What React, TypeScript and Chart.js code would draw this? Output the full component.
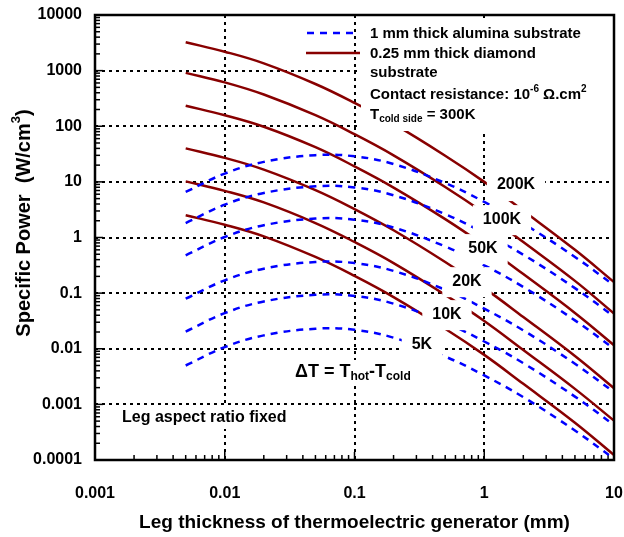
import React, { useEffect, useRef } from 'react';
import { Chart, registerables } from 'chart.js';

Chart.register(...registerables);

// ---------- data ----------
const thickness = [0.005, 0.01, 0.02, 0.05, 0.1, 0.2, 0.5, 1, 2, 5, 10];

const diamond200 = [3240, 2190, 1350, 575, 263, 110, 29.5, 10, 3.02, 0.6, 0.158];
const diamond100 = [910, 615, 372, 158, 72, 30, 8.1, 2.75, 0.83, 0.166, 0.043];
const diamond50 = [234, 158, 98, 42, 19, 7.9, 2.14, 0.72, 0.22, 0.044, 0.0116];
const diamond20 = [40, 27, 16.6, 7.1, 3.24, 1.35, 0.363, 0.123, 0.0372, 0.0074, 0.00195];
const diamond10 = [10.2, 6.9, 4.27, 1.82, 0.83, 0.347, 0.093, 0.0316, 0.0095, 0.0019, 0.00051];
const diamond5 = [2.51, 1.7, 1.05, 0.447, 0.204, 0.085, 0.0229, 0.00776, 0.00234, 0.000468, 0.000123];

const alumina200 = [6.6, 14.1, 22.9, 30.2, 28.8, 20.9, 9.55, 4.37, 1.78, 0.447, 0.138];
const alumina100 = [1.82, 3.89, 6.31, 8.32, 7.94, 5.75, 2.63, 1.2, 0.49, 0.123, 0.038];
const alumina50 = [0.479, 1.02, 1.66, 2.19, 2.09, 1.51, 0.69, 0.316, 0.129, 0.0324, 0.01];
const alumina20 = [0.0794, 0.17, 0.275, 0.363, 0.347, 0.251, 0.115, 0.0525, 0.0214, 0.00537, 0.00166];
const alumina10 = [0.0204, 0.0437, 0.0708, 0.0933, 0.0891, 0.0646, 0.0295, 0.0135, 0.0055, 0.00138, 0.000427];
const alumina5 = [0.005, 0.0107, 0.0174, 0.0229, 0.0219, 0.0158, 0.00724, 0.00331, 0.00135, 0.000339, 0.000105];

const deltaTLabels = ['200K', '100K', '50K', '20K', '10K', '5K'];
// label anchor positions in data space (thickness, power)
const labelX = [1.757, 1.37, 0.978, 0.736, 0.516, 0.331];
const labelY = [8.76, 2.14, 0.644, 0.164, 0.0419, 0.0121];

const xTickValues = [0.001, 0.01, 0.1, 1, 10];
const xTickLabels = ['0.001', '0.01', '0.1', '1', '10'];
const yTickValues = [0.0001, 0.001, 0.01, 0.1, 1, 10, 100, 1000, 10000];
const yTickLabels = ['0.0001', '0.001', '0.01', '0.1', '1', '10', '100', '1000', '10000'];

const xGridValues = [0.01, 0.1, 1];
const yGridValues = [0.001, 0.01, 0.1, 1, 10, 100, 1000];

// ---------- styles ----------
const FF = '"Liberation Sans", Arial, sans-serif';
const BLUE = '#0000FF';
const RED = '#880000';

type Seg = { t: string; size: number; dy?: number };

function richWidth(ctx: CanvasRenderingContext2D, segs: Seg[]) {
  let w = 0;
  for (const s of segs) {
    ctx.font = `bold ${s.size}px ${FF}`;
    w += ctx.measureText(s.t).width;
  }
  return w;
}

function drawRich(ctx: CanvasRenderingContext2D, segs: Seg[], x: number, y: number, align: 'left' | 'center') {
  const total = richWidth(ctx, segs);
  let cx = align === 'center' ? x - total / 2 : x;
  ctx.textAlign = 'left';
  ctx.textBaseline = 'middle';
  for (const s of segs) {
    ctx.font = `bold ${s.size}px ${FF}`;
    ctx.fillText(s.t, cx, y + (s.dy || 0));
    cx += ctx.measureText(s.t).width;
  }
  return total;
}

function seg(ctx: CanvasRenderingContext2D, x1: number, y1: number, x2: number, y2: number) {
  ctx.beginPath();
  ctx.moveTo(x1, y1);
  ctx.lineTo(x2, y2);
  ctx.stroke();
}

const overlayPlugin = {
  id: 'overlay',
  beforeDatasetsDraw(chart: any) {
    const { ctx, chartArea: a, scales } = chart;
    const xs = scales.x;
    const ys = scales.y;
    ctx.save();
    ctx.strokeStyle = '#000';
    ctx.lineWidth = 2;
    ctx.setLineDash([3, 4]);
    for (const v of xGridValues) {
      const px = Math.round(xs.getPixelForValue(v));
      seg(ctx, px, a.top, px, a.bottom);
    }
    for (const v of yGridValues) {
      const py = Math.round(ys.getPixelForValue(v));
      seg(ctx, a.left, py, a.right, py);
    }
    ctx.setLineDash([]);
    ctx.lineWidth = 1.5;
    for (let d = 0.001; d < 9; d *= 10) {
      for (let m = 1; m <= 9; m++) {
        const v = d * m;
        const px = xs.getPixelForValue(v);
        seg(ctx, px, a.bottom, px, a.bottom - (m === 1 ? 8 : 5));
      }
    }
    for (let d = 0.0001; d < 9000; d *= 10) {
      for (let m = 1; m <= 9; m++) {
        const v = d * m;
        const py = ys.getPixelForValue(v);
        seg(ctx, a.left, py, a.left + (m === 1 ? 8 : 5), py);
      }
    }
    ctx.restore();
  },
  afterDatasetsDraw(chart: any) {
    const { ctx, chartArea: a, scales } = chart;
    const xs = scales.x;
    const ys = scales.y;
    ctx.save();
    ctx.fillStyle = '#000';

    // legend box
    const lx = a.left + 266;
    ctx.fillStyle = '#fff';
    ctx.fillRect(lx, a.top + 7, a.right - 3 - lx, 109);
    ctx.lineWidth = 2.5;
    ctx.strokeStyle = BLUE;
    ctx.setLineDash([7, 6]);
    seg(ctx, a.left + 212, a.top + 18, a.left + 262, a.top + 18);
    ctx.setLineDash([]);
    ctx.strokeStyle = RED;
    seg(ctx, a.left + 211, a.top + 38, a.left + 265, a.top + 38);
    ctx.fillStyle = '#000';
    const tx = a.left + 275;
    drawRich(ctx, [{ t: '1 mm thick alumina substrate', size: 15 }], tx, a.top + 19, 'left');
    drawRich(ctx, [{ t: '0.25 mm thick diamond', size: 15 }], tx, a.top + 39, 'left');
    drawRich(ctx, [{ t: 'substrate', size: 15 }], tx, a.top + 58, 'left');
    drawRich(
      ctx,
      [
        { t: 'Contact resistance: 10', size: 15 },
        { t: '-6', size: 10, dy: -6 },
        { t: ' \u03A9.cm', size: 15 },
        { t: '2', size: 10, dy: -6 },
      ],
      tx,
      a.top + 80,
      'left'
    );
    drawRich(
      ctx,
      [
        { t: 'T', size: 15 },
        { t: 'cold side', size: 10, dy: 4 },
        { t: ' = 300K', size: 15 },
      ],
      tx,
      a.top + 100,
      'left'
    );

    // curve labels with white background
    for (let i = 0; i < deltaTLabels.length; i++) {
      const cx = xs.getPixelForValue(labelX[i]);
      const cy = ys.getPixelForValue(labelY[i]);
      ctx.font = `bold 16px ${FF}`;
      const w = ctx.measureText(deltaTLabels[i]).width;
      ctx.fillStyle = '#fff';
      ctx.fillRect(cx - w / 2 - 10, cy - 14, w + 20, 30);
      ctx.fillStyle = '#000';
      drawRich(ctx, [{ t: deltaTLabels[i], size: 16 }], cx, cy, 'center');
    }

    // ΔT annotation
    const dSegs: Seg[] = [
      { t: '\u0394T = T', size: 18 },
      { t: 'hot', size: 12, dy: 5 },
      { t: '-T', size: 18 },
      { t: 'cold', size: 12, dy: 5 },
    ];
    const dx = a.left + 200;
    const dy = a.top + 357;
    const dw = richWidth(ctx, dSegs);
    ctx.fillStyle = '#fff';
    ctx.fillRect(dx - 4, dy - 12, dw + 8, 26);
    ctx.fillStyle = '#000';
    drawRich(ctx, dSegs, dx, dy, 'left');

    const fSegs: Seg[] = [{ t: 'Leg aspect ratio fixed', size: 16 }];
    const fx = a.left + 27;
    const fy = a.top + 403;
    const fw = richWidth(ctx, fSegs);
    ctx.fillStyle = '#fff';
    ctx.fillRect(fx - 4, fy - 11, fw + 8, 22);
    ctx.fillStyle = '#000';
    drawRich(ctx, fSegs, fx, fy, 'left');

    // frame
    ctx.strokeStyle = '#000';
    ctx.lineWidth = 2.5;
    ctx.strokeRect(a.left, a.top, a.right - a.left, a.bottom - a.top);

    // y title
    ctx.save();
    ctx.translate(a.left - 71, a.top + 208);
    ctx.rotate(-Math.PI / 2);
    drawRich(
      ctx,
      [
        { t: 'Specific Power  (W/cm', size: 20 },
        { t: '3', size: 13, dy: -8 },
        { t: ')', size: 20 },
      ],
      0,
      0,
      'center'
    );
    ctx.restore();

    ctx.restore();
  },
};

function makeDataset(label: string, values: number[], kind: 'alumina' | 'diamond') {
  return {
    label,
    data: thickness.map((x, i) => ({ x, y: values[i] })),
    borderColor: kind === 'alumina' ? BLUE : RED,
    backgroundColor: kind === 'alumina' ? BLUE : RED,
    borderWidth: 2.5,
    borderDash: kind === 'alumina' ? [7, 6] : [],
    pointRadius: 0,
    tension: 0.4,
    fill: false,
  };
}

export default function App() {
  const ref = useRef<HTMLCanvasElement>(null);

  useEffect(() => {
    document.body.style.margin = '0';
    const canvas = ref.current;
    if (!canvas) return;
    const chart = new Chart(canvas, {
      type: 'line',
      data: {
        datasets: [
          makeDataset('alumina 200K', alumina200, 'alumina'),
          makeDataset('alumina 100K', alumina100, 'alumina'),
          makeDataset('alumina 50K', alumina50, 'alumina'),
          makeDataset('alumina 20K', alumina20, 'alumina'),
          makeDataset('alumina 10K', alumina10, 'alumina'),
          makeDataset('alumina 5K', alumina5, 'alumina'),
          makeDataset('diamond 200K', diamond200, 'diamond'),
          makeDataset('diamond 100K', diamond100, 'diamond'),
          makeDataset('diamond 50K', diamond50, 'diamond'),
          makeDataset('diamond 20K', diamond20, 'diamond'),
          makeDataset('diamond 10K', diamond10, 'diamond'),
          makeDataset('diamond 5K', diamond5, 'diamond'),
        ],
      },
      options: {
        responsive: false,
        animation: false,
        devicePixelRatio: 1,
        layout: { padding: { top: 15, right: 10, left: 0, bottom: 0 } },
        plugins: { legend: { display: false }, tooltip: { enabled: false }, title: { display: false } },
        scales: {
          x: {
            type: 'logarithmic',
            position: 'bottom',
            min: 0.001,
            max: 10,
            grid: {
              display: true,
              drawOnChartArea: false,
              drawTicks: true,
              tickLength: 24,
              color: 'rgba(0,0,0,0)',
            },
            border: { display: false },
            afterBuildTicks: (s: any) => {
              s.ticks = xTickValues.map((v) => ({ value: v }));
            },
            afterFit: (s: any) => {
              s.height = 77;
            },
            ticks: {
              autoSkip: false,
              maxRotation: 0,
              padding: 0,
              color: '#000',
              font: { family: FF, size: 16, weight: 'bold' },
              callback: (_v: any, i: number) => xTickLabels[i],
            },
            title: {
              display: true,
              text: 'Leg thickness of thermoelectric generator (mm)',
              color: '#000',
              font: { family: FF, size: 19, weight: 'bold' },
              padding: { top: 0, bottom: 3 },
            },
          },
          y: {
            type: 'logarithmic',
            position: 'left',
            min: 0.0001,
            max: 10000,
            grid: {
              display: true,
              drawOnChartArea: false,
              drawTicks: true,
              tickLength: 13,
              color: 'rgba(0,0,0,0)',
            },
            border: { display: false },
            afterBuildTicks: (s: any) => {
              s.ticks = yTickValues.map((v) => ({ value: v }));
            },
            afterFit: (s: any) => {
              s.width = 95;
            },
            ticks: {
              autoSkip: false,
              padding: 0,
              color: '#000',
              font: { family: FF, size: 16, weight: 'bold' },
              callback: (_v: any, i: number) => yTickLabels[i],
            },
          },
        },
      } as any,
      plugins: [overlayPlugin],
    });
    return () => chart.destroy();
  }, []);

  return (
    <canvas
      ref={ref}
      width={624}
      height={537}
      style={{ display: 'block', width: '624px', height: '537px' }}
    />
  );
}
